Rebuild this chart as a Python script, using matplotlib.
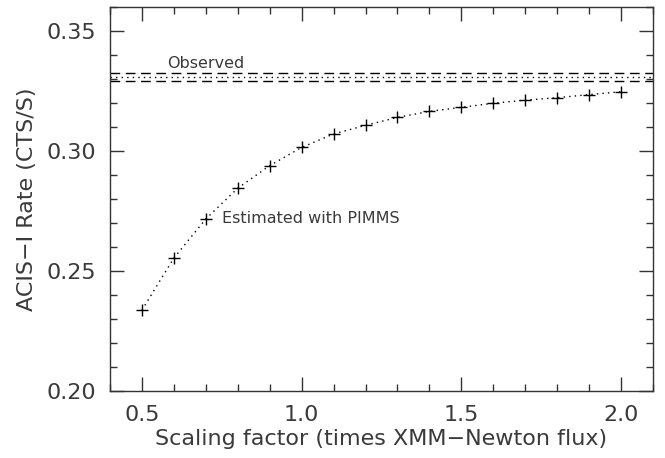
import numpy as np
import matplotlib
matplotlib.use("Agg")
from matplotlib import pyplot as plt
from matplotlib.ticker import MultipleLocator

# scaling factor vs estimated ACIS-I rate (PIMMS)
scale = [0.5, 0.6, 0.7, 0.8, 0.9, 1.0, 1.1, 1.2, 1.3, 1.4, 1.5, 1.6, 1.7, 1.8, 1.9, 2.0]
rate = [0.2337, 0.2554, 0.2717, 0.2845, 0.2939, 0.3015, 0.3071, 0.3107,
        0.3140, 0.3165, 0.3182, 0.3199, 0.3212, 0.3222, 0.3235, 0.3247]

observed = 0.3308
observed_err = 0.0016

plt.rcParams['font.family'] = ['DejaVu Sans']
plt.rcParams['font.size'] = 15
txt = '#3a3a3a'

fig = plt.figure(figsize=(6.65, 4.58), dpi=100)
ax = fig.add_axes([110 / 665, 67 / 458, 543 / 665, 384 / 458])

ax.plot(scale, rate, color='black', ls=(0, (1, 3)), lw=1.0)
ax.plot(scale, rate, color='black', ls='none', marker='+', ms=9, mew=1.0)

ax.axhline(observed, color='black', ls=(0, (1, 3)), lw=1.0)
ax.axhline(observed + observed_err, color='black', ls=(0, (7, 4)), lw=1.0)
ax.axhline(observed - observed_err, color='black', ls=(0, (7, 4)), lw=1.0)

ax.text(0.58, observed + 0.0026, "Observed", fontsize=11.5, color=txt, va='bottom', ha='left')
ax.text(0.75, 0.2717, "Estimated with PIMMS", fontsize=11.5, color=txt, va='center', ha='left')

ax.set_xlim(0.4, 2.1)
ax.set_ylim(0.20, 0.36)
ax.xaxis.set_minor_locator(MultipleLocator(0.1))
ax.yaxis.set_minor_locator(MultipleLocator(0.01))
ax.set_xticks([0.5, 1.0, 1.5, 2.0])
ax.set_xticklabels(["0.5", "1.0", "1.5", "2.0"])
ax.set_yticks([0.20, 0.25, 0.30, 0.35])
ax.set_yticklabels(["0.20", "0.25", "0.30", "0.35"])

ax.tick_params(which='both', direction='in', top=True, right=True, color='#333333', labelcolor=txt)
ax.tick_params(which='major', length=10, width=1.0, pad=10, labelsize=16)
ax.tick_params(which='minor', length=5, width=1.0)
for s in ax.spines.values():
    s.set_linewidth(1.0)
    s.set_color('#333333')

ax.set_xlabel("Scaling factor (times XMM\u2212Newton flux)", fontsize=16, color=txt, labelpad=3)
ax.set_ylabel("ACIS\u2212I Rate (CTS/S)", fontsize=16, color=txt, labelpad=7)

fig.savefig("out.png", dpi=100)
